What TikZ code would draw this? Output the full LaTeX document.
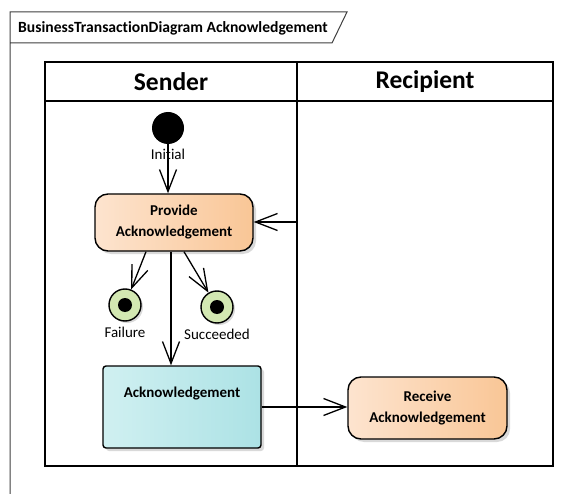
\documentclass[tikz,border=0pt]{standalone}
\usepackage{fontspec}
\setmainfont{Carlito}[Ligatures={NoCommon,NoRare,NoDiscretionary}]
\usetikzlibrary{positioning, arrows.meta, shadows}
\definecolor{actleft}{HTML}{FDE4CF}
\definecolor{actright}{HTML}{F9C696}
\definecolor{objleft}{HTML}{D0F0F1}
\definecolor{objright}{HTML}{ACE2E5}
\definecolor{finalgreen}{HTML}{D3E8B2}
\definecolor{framegray}{HTML}{404040}
\tikzset{
action/.style={shape=rectangle, rounded corners=13pt, draw, line width=1.4pt, minimum width=158pt, minimum height=57pt, align=center, font=\fontsize{15}{21}\selectfont\bfseries, left color=actleft, right color=actright, drop shadow={shadow xshift=3pt, shadow yshift=-3pt, fill=black!15, opacity=1}},
objectnode/.style={action, rounded corners=3pt, minimum height=82pt, inner ysep=0pt, text height=31pt, text depth=51pt, left color=objleft, right color=objright},
initialnode/.style={shape=circle, fill=black, minimum size=32pt, inner sep=0},
finalnode/.style={shape=circle, draw, line width=1.4pt, fill=finalgreen, minimum size=32pt, inner sep=0, drop shadow={shadow xshift=2pt, shadow yshift=-2pt, fill=black!15, opacity=1}},
lbl/.style={inner sep=0, font=\fontsize{15}{18}\selectfont},
lanehead/.style={font=\fontsize{25.5}{30}\selectfont\bfseries},
flow/.style={line width=1.3pt, -{Straight Barb[length=22pt, width=17pt, line width=1.3pt]}}}
\begin{document}
\begin{tikzpicture}[x=1pt, y=-1pt]
\useasboundingbox [fill=white] (0,0) rectangle (575,494);
% diagram frame
\draw [framegray, line width=1pt] (10,494) -- (10,12) -- (347,12) -- (332,43) -- (10,43);
\node [anchor=west, inner sep=0, font=\fontsize{15.6}{18}\selectfont\bfseries] at (18,28.5) (title) {BusinessTransactionDiagram Acknowledgement};
% swimlanes
\draw [line width=2pt] (45,62) rectangle (553,466);
\draw [line width=2pt] (45,101) -- (553,101);
\draw [line width=2pt] (297,62) -- (297,466);
\node [lanehead] at (171,82) (sender) {Sender};
\node [lanehead] at (425,82) (recipient) {Recipient};
% activity nodes
\node [initialnode] at (168,128) (init) {};
\node [lbl, below=5pt of init] (init-lbl) {Initial};
\node [action] at (174,222.5) (provide) {Provide\\Acknowledgement};
\node [finalnode] at (125,305) (fail) {};
\fill (fail) circle (7pt);
\node [lbl, below=5pt of fail] (fail-lbl) {Failure};
\node [finalnode] at (217,307) (succ) {};
\fill (succ) circle (7pt);
\node [lbl, below=5pt of succ] (succ-lbl) {Succeeded};
\node [objectnode] at (182,407) (ack) {Acknowledgement};
\node [action, minimum width=159pt, minimum height=62pt] at (427.5,408) (receive) {Receive\\Acknowledgement};
\coordinate (rcv-in) at (297,222);
% flows
\draw [flow] (init) -- (init |- provide.north);
\draw [flow] (rcv-in) -- (provide.east |- rcv-in);
\draw [flow] ([xshift=-28pt]provide.south) -- (fail);
\draw [flow] ([xshift=10pt]provide.south) -- (succ);
\draw [flow] ([xshift=-3pt]provide.south) -- ([xshift=-3pt]provide.south |- ack.north);
\draw [flow] (ack.east) -- (ack.east -| receive.west);
\end{tikzpicture}
\end{document}
